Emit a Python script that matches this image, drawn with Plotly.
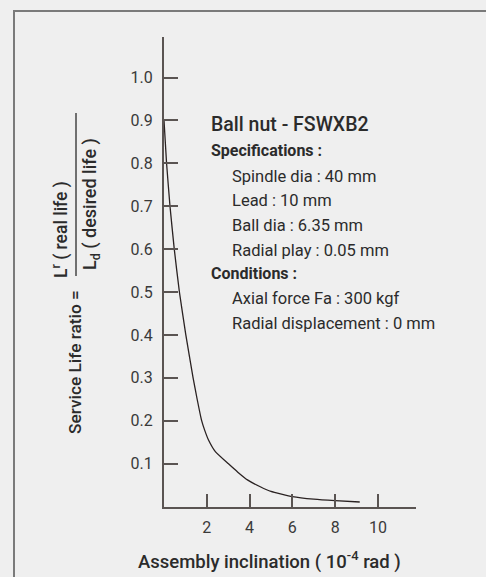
import plotly.graph_objects as go

# ---- data ----
x_vals = [0, 0.12, 0.28, 0.48, 0.72, 1.02, 1.36, 1.55, 1.76, 1.9, 2.08, 2.4, 3.0, 3.45, 3.9, 4.5, 5.0, 6.0, 7.0, 8.0, 9.15]
y_vals = [0.9, 0.8, 0.7, 0.6, 0.5, 0.4, 0.3, 0.25, 0.2, 0.178, 0.155, 0.128, 0.1, 0.08, 0.062, 0.046, 0.035, 0.023, 0.017, 0.0135, 0.0105]
y_tick_vals = [0.1, 0.2, 0.3, 0.4, 0.5, 0.6, 0.7, 0.8, 0.9, 1.0]
y_tick_text = ["0.1", "0.2", "0.3", "0.4", "0.5", "0.6", "0.7", "0.8", "0.9", "1.0"]
x_tick_vals = [2, 4, 6, 8, 10]
x_tick_text = ["2", "4", "6", "8", "10"]

title_line = "Ball nut - FSWXB2"
spec_head = "Specifications :"
spec_lines = ["Spindle dia : 40 mm", "Lead : 10 mm", "Ball dia : 6.35 mm", "Radial play : 0.05 mm"]
cond_head = "Conditions :"
cond_lines = ["Axial force Fa : 300 kgf", "Radial displacement : 0 mm"]

W, H = 486, 577
def px(x):
    return x / W
def py(y):
    return 1 - y / H

FONT = "Roboto"
TXT = "#2b2b2b"
AX = "#5a5452"

fig = go.Figure()
fig.add_trace(go.Scatter(x=x_vals, y=y_vals, mode="lines",
                         line=dict(color="#2a2222", width=1.3, shape="spline", smoothing=0.4),
                         hoverinfo="skip", showlegend=False))

fig.update_layout(
    width=W, height=H,
    margin=dict(l=0, r=0, t=0, b=0),
    paper_bgcolor="#efefef",
    plot_bgcolor="rgba(0,0,0,0)",
    showlegend=False,
    xaxis=dict(domain=[px(164), px(416)], range=[0, 11.78],
               showgrid=False, zeroline=False, showline=True, linecolor=AX, linewidth=2,
               ticks="inside", ticklen=13, tickwidth=1.6, tickcolor=AX,
               tickvals=x_tick_vals, ticktext=x_tick_text, ticklabelstandoff=5,
               tickfont=dict(family=FONT, size=16, color="#3a3a3a")),
    yaxis=dict(domain=[py(506.5), py(37)], range=[0, 1.0944],
               showgrid=False, zeroline=False, showline=True, linecolor=AX, linewidth=2,
               ticks="inside", ticklen=14, tickwidth=1.6, tickcolor=AX,
               tickvals=y_tick_vals, ticktext=y_tick_text, ticklabelstandoff=6,
               tickfont=dict(family=FONT, size=16, color="#3a3a3a")),
)

# frame
fig.add_shape(type="rect", xref="paper", yref="paper",
              x0=px(14), x1=1.05, y0=-0.05, y1=py(11),
              line=dict(color="#7a7a7a", width=2), fillcolor="rgba(0,0,0,0)", layer="below")

ann = []
def add(text, x, y, size, weight="normal", xanchor="left", angle=0, color=TXT):
    ann.append(dict(text=text, x=px(x), y=py(y), xref="paper", yref="paper",
                    xanchor=xanchor, yanchor="middle", showarrow=False, textangle=angle,
                    font=dict(family=FONT, size=size, color=color, weight=weight)))

add(title_line, 209, 125, 19.5, weight=500)
add(spec_head, 209, 150, 16, weight="bold")
y = 176
for s in spec_lines:
    add(s, 230, y, 16.5)
    y += 24.7
add(cond_head, 209, 273, 16, weight="bold")
y = 298
for s in cond_lines:
    add(s, 230, y, 16.5)
    y += 25

# x title
add("Assembly inclination ( 10<sup>-4</sup> rad )", 269, 560, 18.5, weight=500, xanchor="center")

# y title (rotated)
add("Service Life ratio =", 75, 362, 17.3, weight=500, xanchor="center", angle=-90)
add("L<sup>r</sup> ( real life )", 61, 230, 17.5, weight=500, xanchor="center", angle=-90)
add("L<sub>d</sub> ( desired life )", 91, 204, 18, weight=500, xanchor="center", angle=-90)
fig.add_shape(type="line", xref="paper", yref="paper",
              x0=px(76), x1=px(76), y0=py(113), y1=py(276),
              line=dict(color=TXT, width=1.3))

fig.update_layout(annotations=ann)
fig.write_html("out.html", config={"displayModeBar": False},
               post_script="document.body.style.margin='0';document.body.style.overflow='hidden';")
